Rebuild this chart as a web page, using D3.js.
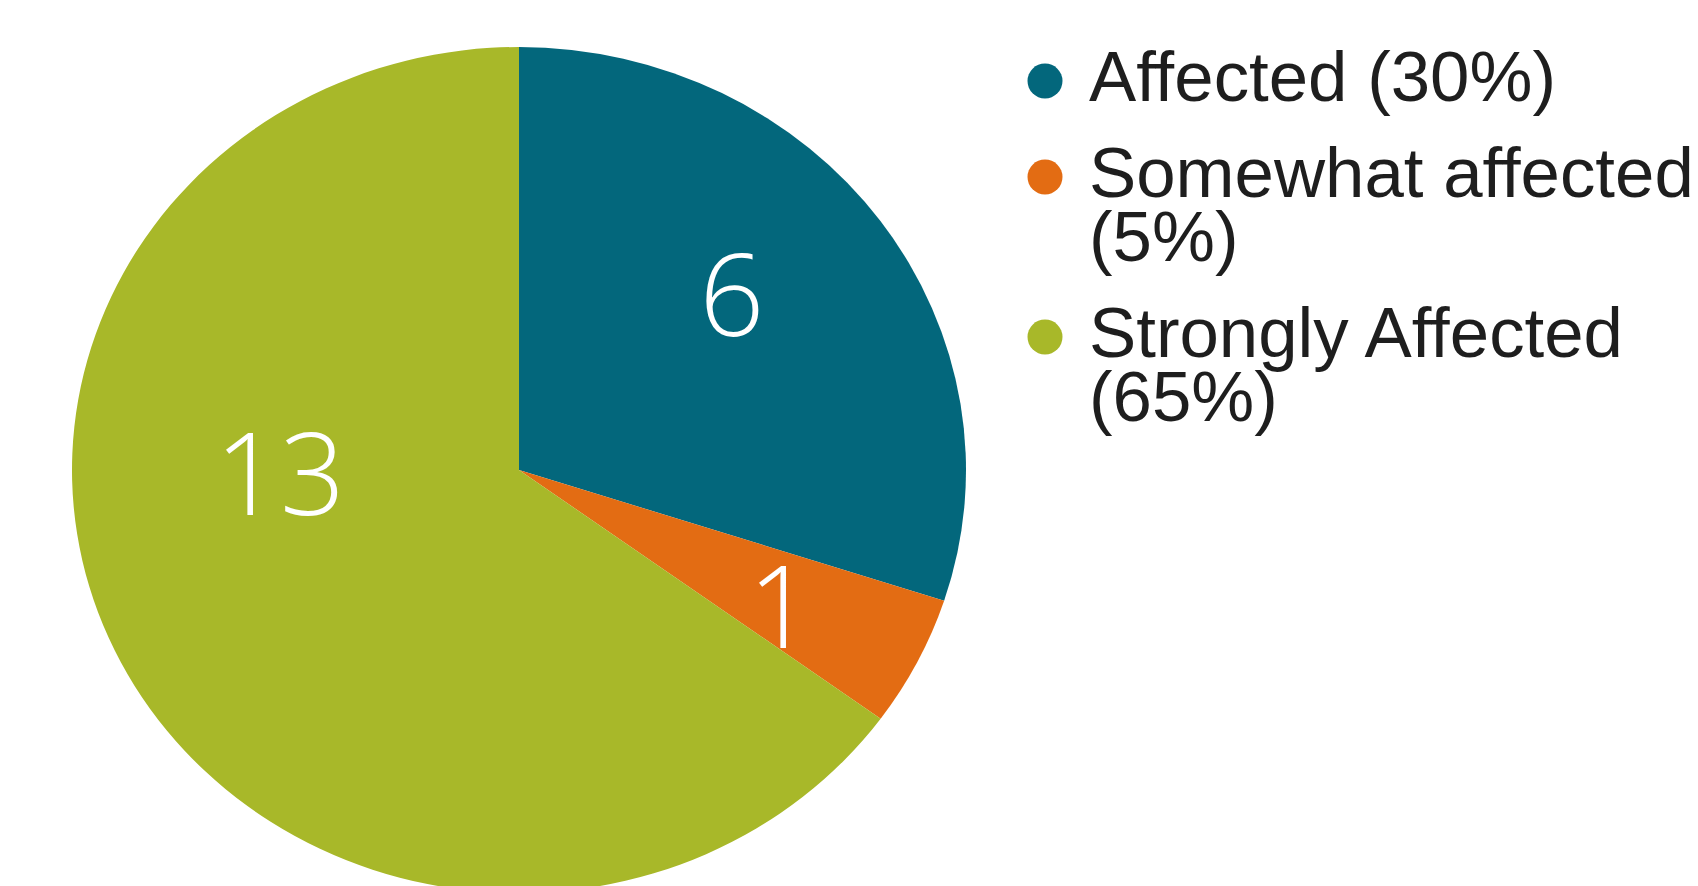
<!DOCTYPE html>
<html>
<head>
<meta charset="utf-8">
<script src="https://cdn.jsdelivr.net/npm/d3@7"></script>
<style>
  body { margin: 0; background: #fff; }
  svg { display: block; }
</style>
</head>
<body>
<svg id="pie-chart" width="1698" height="886"></svg>
<script>
const categories = ["Affected", "Somewhat affected", "Strongly Affected"];
const counts = [6, 1, 13];
const colors = ["#03677c", "#e36c13", "#a8b829"];

const svg = d3.select("#pie-chart");

// pie geometry (the original is slightly squashed vertically)
const cx = 519, cy = 470, radius = 447, squash = 423 / 447;

const color = d3.scaleOrdinal().domain(categories).range(colors);
const total = d3.sum(counts);
const pct = d3.format(".0%");

const data = categories.map((c, i) => ({ category: c, count: counts[i] }));
const pie = d3.pie().sort(null).value(d => d.count);
const arcs = pie(data);
const arc = d3.arc().innerRadius(0).outerRadius(radius);

const g = svg.append("g")
  .attr("transform", `translate(${cx},${cy}) scale(1,${squash})`);

g.selectAll("path")
  .data(arcs)
  .enter()
  .append("path")
  .attr("d", arc)
  .attr("fill", d => color(d.data.category));

// value labels - placed by hand in the original, so nudge angle / radius per slice
const labelLayout = [
  { dAngle: -5, r: 282 },
  { dAngle: 2, r: 299 },
  { dAngle: 26, r: 239 }
];

svg.selectAll(".value-label")
  .data(arcs)
  .enter()
  .append("text")
  .attr("class", "value-label")
  .each(function(d, i) {
    const lay = labelLayout[i];
    const a = (d.startAngle + d.endAngle) / 2 + lay.dAngle * Math.PI / 180;
    const [px, py] = d3.arc().innerRadius(lay.r).outerRadius(lay.r)
      .centroid({ startAngle: a, endAngle: a });
    d3.select(this)
      .attr("x", cx + px)
      .attr("y", cy + py * squash)
      .attr("dy", "0.36em");
  })
  .attr("text-anchor", "middle")
  .style("font-family", "'Open Sans', Lato, sans-serif")
  .style("font-weight", 300)
  .style("font-size", "114px")
  .attr("fill", "#fff")
  .text(d => d.data.count);

// legend
const legend = svg.append("g").attr("class", "legend");
const legendX = 1045, textX = 1089, lineH = 64, itemGap = 96, maxW = 620;
const fontSize = 70.8;
let baseY = 101;

data.forEach(d => {
  const label = `${d.category} (${pct(d.count / total)})`;

  legend.append("circle")
    .attr("cx", legendX)
    .attr("cy", baseY - 20)
    .attr("r", 17.5)
    .attr("fill", color(d.category));

  const txt = legend.append("text")
    .attr("x", textX)
    .attr("y", baseY)
    .style("font-family", "'Liberation Sans', Arial, sans-serif")
    .style("font-size", fontSize + "px")
    .attr("fill", "#1e1e1e");

  // wrap words onto a new line when too wide
  const words = label.split(" ");
  const lines = [];
  let cur = [];
  words.forEach(w => {
    const test = cur.concat(w).join(" ");
    txt.text(test);
    if (txt.node().getComputedTextLength() > maxW && cur.length) {
      lines.push(cur.join(" "));
      cur = [w];
    } else {
      cur.push(w);
    }
  });
  lines.push(cur.join(" "));
  txt.text(null);

  lines.forEach((ln, j) => {
    txt.append("tspan")
      .attr("x", textX)
      .attr("y", baseY + j * lineH)
      .text(ln);
  });

  baseY += (lines.length - 1) * lineH + itemGap;
});
</script>
</body>
</html>
